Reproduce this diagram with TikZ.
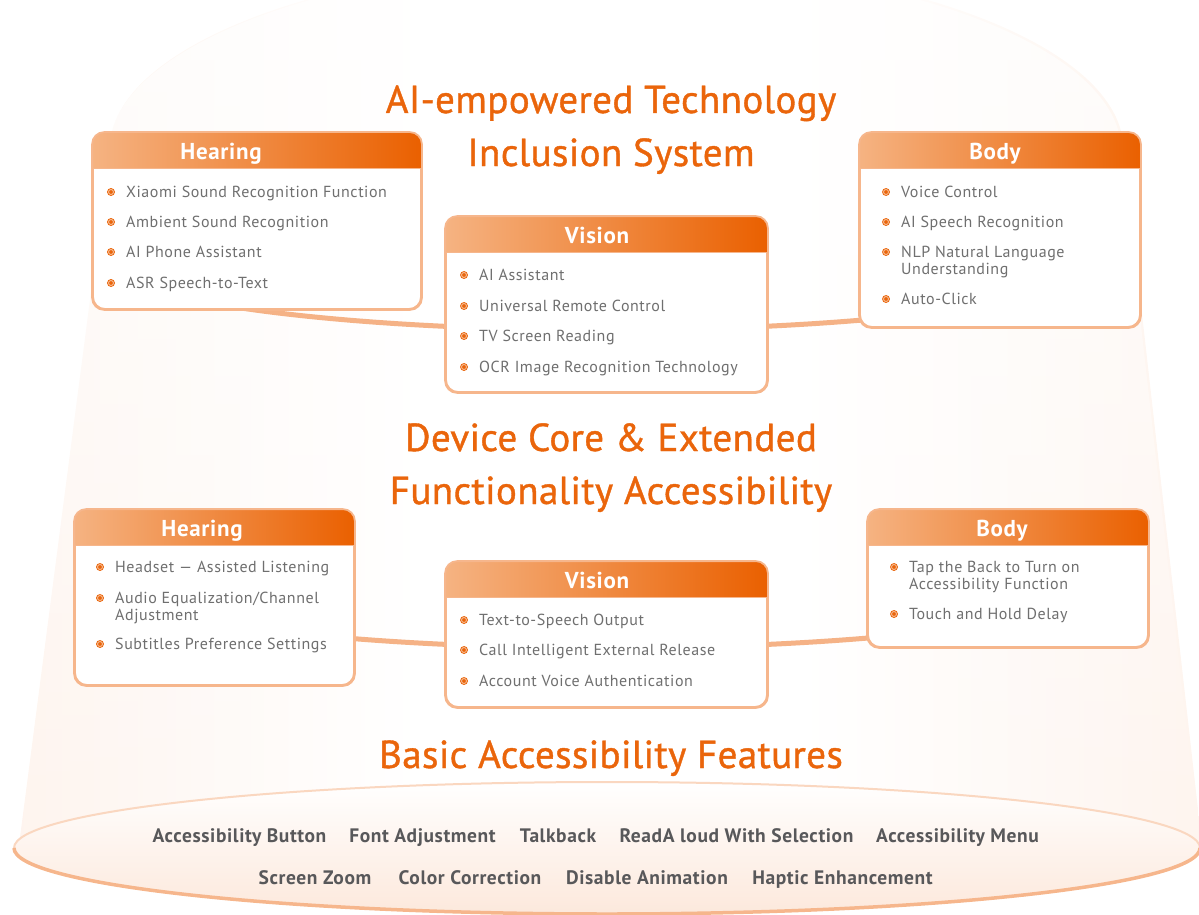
\documentclass[tikz,border=0pt]{standalone}
\usepackage{fontspec}
\setmainfont{PT Sans}
\newfontfamily\itemfont{PT Sans}[LetterSpace=3.5]
\newfontfamily\headfont{PT Sans}[LetterSpace=1,FakeBold=1]
\newfontfamily\labelfont{PT Sans Bold}[LetterSpace=3]
\usepackage{tikz}
\usetikzlibrary{arrows,shapes,positioning,fadings}
\definecolor{accent}{HTML}{EA650B}
\definecolor{peach}{HTML}{F6B68C}
\definecolor{conepeach}{HTML}{FCE6D8}
\definecolor{hdlight}{HTML}{F5B382}
\definecolor{hdorange}{HTML}{EA6000}
\definecolor{itemgray}{HTML}{6F6F6F}
\definecolor{basegray}{HTML}{58585A}
\pgfdeclarehorizontalshading{conefill}{100bp}{color(0bp)=(conepeach); color(22bp)=(conepeach!50!white);
    color(42bp)=(white); color(58bp)=(white); color(78bp)=(conepeach!50!white); color(100bp)=(conepeach)}
\tikzfading[name=topfade, top color=transparent!25, bottom color=transparent!100]
\tikzstyle{card}=[draw=peach,line width=1.8pt,rounded corners=12pt,fill=white!99!conepeach,inner sep=0pt]
\tikzstyle{cardhead}=[left color=hdlight,right color=hdorange,rounded corners=12pt]
\tikzstyle{cardline}=[draw=peach,line width=1.8pt,rounded corners=12pt]
\tikzstyle{cardtitle}=[anchor=base,text=white,font=\labelfont\fontsize{23}{25}\selectfont]
\tikzstyle{bullet}=[circle,draw=accent,fill=accent,double=white!55!accent,double distance=0.9pt,line width=0.9pt,minimum size=5pt,inner sep=0pt]
\tikzstyle{itemtext}=[anchor=north west,inner sep=0pt,text=itemgray,align=left,font=\itemfont\fontsize{16}{17}\selectfont]
\tikzstyle{heading}=[anchor=base,text=accent,font=\headfont\fontsize{39}{41}\selectfont]
\tikzstyle{feature}=[anchor=base,text=basegray,font=\labelfont\fontsize{19.5}{21}\selectfont]
\tikzstyle{ring}=[draw=peach!95!accent,line width=5pt]

\begin{document}
\begin{tikzpicture}[x=1pt,y=-1pt]
    \clip (0,0) rectangle (1199,915);
    % First the light cone behind everything, paler towards the top
    \shade[shading=conefill]
        (19,845) -- (109.5,150) arc[start angle=180,end angle=360,x radius=507,y radius=190]
        -- (1202,845) -- cycle;
    \fill[white,path fading=topfade]
        (19,845) -- (109.5,150) arc[start angle=180,end angle=360,x radius=507,y radius=190]
        -- (1202,845) -- cycle;
    % Base plate at the bottom
    \shade[top color=white,bottom color=conepeach!90,draw=peach!55,line width=2pt]
        (607,848) ellipse [x radius=593,y radius=66];
    \draw[draw=peach,line width=3.5pt] (14,848) arc[start angle=180,end angle=0,x radius=593,y radius=66];
    % The two rings that carry the cards
    \draw[ring] (105,260) arc[start angle=180,end angle=0,x radius=500,y radius=70];
    \draw[ring] (107,580) arc[start angle=180,end angle=0,x radius=500,y radius=68];
    % Level headings
    \foreach \x/\y/\txt [count=\i] in {611/113/AI-empowered Technology, 611/166/Inclusion System,
        611/451/Device Core \& Extended, 611/504/Functionality Accessibility,
        611/768/Basic Accessibility Features}
        \node[heading] (head\i) at (\x,\y) {\txt};
    % Cards with their shaded header strip
    \foreach \nm/\xa/\ya/\xb/\yb/\tx/\ttl in {hearA/93/133/421/309/221/Hearing, visA/446/217/767/392/597/Vision,
        bodyA/860/133/1140/327/995/Body, hearB/75/510/354/685/202/Hearing,
        visB/446/562/767/707/597/Vision, bodyB/868/510/1148/647/1002/Body}
    {
        \node[card,minimum width={\xb-\xa},minimum height={\yb-\ya}] (\nm) at ({(\xa+\xb)/2},{(\ya+\yb)/2}) {};
        \begin{scope}
            \clip (\xa-3,\ya-3) rectangle (\xb+3,\ya+35);
            \shade[cardhead] (\nm.north west) rectangle (\nm.south east);
        \end{scope}
        \draw[cardline] (\nm.north west) rectangle (\nm.south east);
        \draw[draw=peach,line width=1pt] (\xa,\ya+35) -- (\xb,\ya+35);
        \node[cardtitle] (\nm-title) at (\tx,\ya+26) {\ttl};
    }
    % Bullet items inside the cards
    \foreach \bx/\by/\txt [count=\i] in {111/192/Xiaomi Sound Recognition Function, 111/222/Ambient Sound Recognition,
        111/252/AI Phone Assistant, 111/283/ASR Speech-to-Text,
        464/275/AI Assistant, 464/306/Universal Remote Control, 464/336/TV Screen Reading,
        464/367/OCR Image Recognition Technology,
        886/192/Voice Control, 886/222/AI Speech Recognition, 886/252/{NLP Natural Language\\Understanding},
        886/299/Auto-Click,
        100/567/Headset — Assisted Listening, 100/598/{Audio Equalization/Channel\\Adjustment},
        100/644/Subtitles Preference Settings,
        464/620/Text-to-Speech Output, 464/650/Call Intelligent External Release,
        464/681/Account Voice Authentication,
        894/567/{Tap the Back to Turn on\\Accessibility Function}, 894/614/Touch and Hold Delay}
    {
        \node[bullet] (dot\i) at (\bx,\by) {};
        \node[itemtext] (item\i) at (\bx+15,\by-6) {\txt};
    }
    % Basic features on the base plate
    \foreach \x/\y/\txt [count=\i] in {239.5/842/Accessibility Button, 422.5/842/Font Adjustment,
        558/842/Talkback, 736.5/842/ReadA loud With Selection, 957.5/842/Accessibility Menu,
        315/884/Screen Zoom, 470/884/Color Correction, 647/884/Disable Animation,
        842.5/884/Haptic Enhancement}
        \node[feature] (feat\i) at (\x,\y) {\txt};
\end{tikzpicture}
\end{document}
